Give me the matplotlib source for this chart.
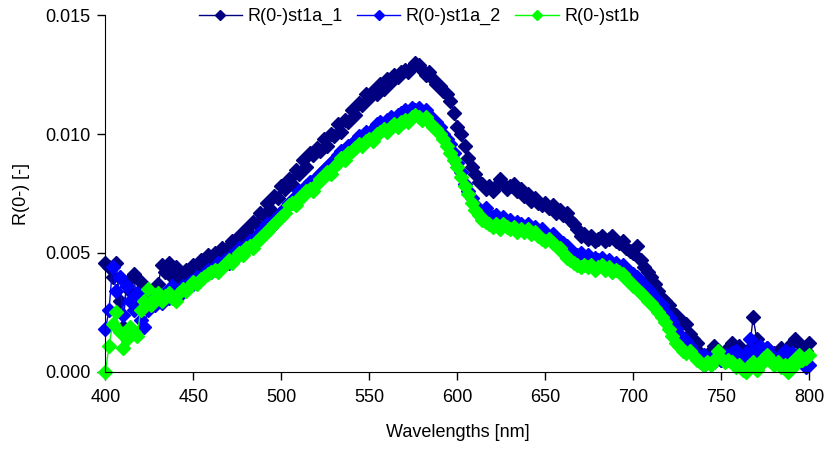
import numpy as np
from matplotlib import pyplot as plt

plt.rcParams["font.family"] = ["Liberation Sans", "DejaVu Sans"]

# wavelengths every 2 nm, values in units of 1e-4
wavelength = np.arange(400, 801, 2)

st1a_1 = [
    46, 44, 40, 46, 30, 19, 38, 34, 41, 28,
    38, 36, 30, 34, 33, 37, 45, 42, 46, 40,
    44, 38, 41, 43, 42, 45, 44, 47, 46, 49,
    48, 50, 49, 52, 51, 53, 55, 54, 57, 58,
    60, 58, 63, 62, 67, 66, 71, 68, 74, 73,
    78, 77, 81, 79, 85, 83, 89, 86, 92, 91,
    94, 93, 98, 95, 100, 99, 104, 101, 106, 105,
    110, 108, 113, 112, 117, 115, 118, 117, 121, 119,
    123, 122, 125, 124, 126, 127, 126, 128, 130, 129,
    127, 125, 126, 123, 121, 120, 118, 117, 114, 109,
    103, 100, 95, 90, 86, 83, 80, 79, 77, 78,
    76, 78, 81, 79, 77, 78, 79, 76, 77, 74,
    75, 72, 73, 71, 70, 71, 69, 70, 67, 68,
    66, 67, 64, 62, 60, 57, 58, 56, 57, 55,
    56, 57, 55, 56, 57, 55, 54, 55, 52, 51,
    50, 53, 47, 44, 42, 40, 37, 34, 31, 30,
    28, 25, 24, 22, 21, 20, 16, 14, 12, 8,
    3, 6, 9, 11, 8, 5, 7, 10, 12, 9,
    11, 8, 6, 10, 23, 14, 9, 7, 10, 6,
    8, 5, 10, 7, 9, 12, 14, 8, 11, 9,
    12,
]

st1a_2 = [
    18, 26, 44, 34, 40, 24, 36, 30, 26, 33,
    22, 19, 26, 30, 28, 31, 29, 33, 31, 36,
    34, 32, 36, 35, 38, 37, 40, 39, 41, 43,
    42, 44, 46, 45, 47, 46, 49, 50, 52, 51,
    53, 55, 54, 57, 59, 60, 62, 61, 64, 65,
    67, 69, 71, 72, 74, 76, 75, 78, 80, 79,
    82, 83, 85, 86, 88, 89, 91, 93, 92, 95,
    96, 97, 99, 98, 101, 100, 102, 104, 105, 104,
    106, 107, 106, 108, 109, 110, 109, 111, 110, 111,
    109, 110, 108, 106, 105, 103, 100, 98, 96, 92,
    88, 84, 79, 76, 73, 70, 68, 67, 69, 66,
    65, 66, 64, 65, 63, 64, 62, 63, 62, 61,
    62, 60, 61, 59, 60, 58, 57, 58, 56, 55,
    54, 53, 51, 50, 49, 50, 48, 49, 47, 48,
    47, 48, 46, 47, 45, 46, 44, 45, 43, 42,
    41, 40, 38, 36, 35, 33, 31, 29, 28, 25,
    23, 21, 18, 16, 14, 13, 11, 9, 7, 6,
    7, 5, 6, 4, 6, 5, 7, 6, 8, 9,
    7, 5, 8, 14, 9, 6, 11, 8, 10, 7,
    5, 4, 7, 9, 6, 8, 5, 7, 4, 2,
    3,
]

st1b = [
    0, 11, 20, 25, 17, 10, 14, 19, 17, 15,
    26, 30, 35, 28, 31, 33, 30, 32, 33, 31,
    30, 33, 35, 34, 36, 38, 37, 39, 40, 41,
    42, 43, 42, 44, 45, 47, 46, 48, 50, 49,
    52, 53, 52, 55, 56, 58, 59, 61, 62, 64,
    65, 67, 70, 71, 70, 73, 74, 76, 77, 76,
    79, 81, 82, 84, 83, 86, 88, 90, 89, 92,
    93, 94, 96, 95, 97, 98, 97, 100, 101, 102,
    101, 103, 104, 103, 105, 106, 105, 107, 108, 107,
    106, 107, 105, 103, 102, 100, 98, 95, 92, 89,
    86, 82, 78, 75, 71, 68, 66, 64, 63, 62,
    61, 62, 60, 62, 61, 60, 61, 59, 60, 59,
    60, 58, 59, 57, 56, 55, 56, 54, 53, 52,
    50, 48, 47, 46, 45, 44, 45, 44, 45, 43,
    44, 45, 43, 44, 42, 43, 42, 41, 39, 38,
    36, 35, 33, 32, 30, 29, 27, 25, 23, 21,
    18, 15, 12, 11, 9, 8, 9, 7, 5, 4,
    3, 4, 3, 5, 9, 6, 4, 5, 4, 2,
    3, 1, 0, 3, 4, 1, 3, 6, 7, 5,
    3, 4, 2, 3, 0, 4, 3, 7, 5, 6,
    7,
]

series = [
    ("R(0-)st1a_1", st1a_1, "#000080"),
    ("R(0-)st1a_2", st1a_2, "#0000FF"),
    ("R(0-)st1b", st1b, "#00FF00"),
]

fig = plt.figure(figsize=(8.28, 4.51), dpi=100)
ax = fig.add_axes([0.1274, 0.1752, 0.8502, 0.7915])

for name, vals, col in series:
    ax.plot(wavelength, np.array(vals) * 1e-4, color=col, lw=1, marker="D",
            ms=7, mec=col, mfc=col, label=name, clip_on=False)

ax.set_xlim(400, 800)
ax.set_ylim(0, 0.015)
ax.set_xticks(np.arange(400, 801, 50))
ax.set_yticks([0, 0.005, 0.010, 0.015])
ax.set_yticklabels(["0.000", "0.005", "0.010", "0.015"])
ax.tick_params(direction="out", length=6, labelsize=13, width=1)
ax.tick_params(axis="x", pad=6)
ax.tick_params(axis="y", pad=5)
ax.spines["top"].set_visible(False)
ax.spines["right"].set_visible(False)
ax.set_xlabel("Wavelengths [nm]", fontsize=13, labelpad=13)
ax.set_ylabel("R(0-) [-]", fontsize=13, labelpad=11)

fig.legend(loc="center", bbox_to_anchor=(0.506, 0.963), ncol=3, frameon=False,
           fontsize=13, numpoints=1, handlelength=2.4, handletextpad=0.3,
           columnspacing=0.8, markerscale=0.7)

fig.savefig("out.png", dpi=100)
plt.close()
